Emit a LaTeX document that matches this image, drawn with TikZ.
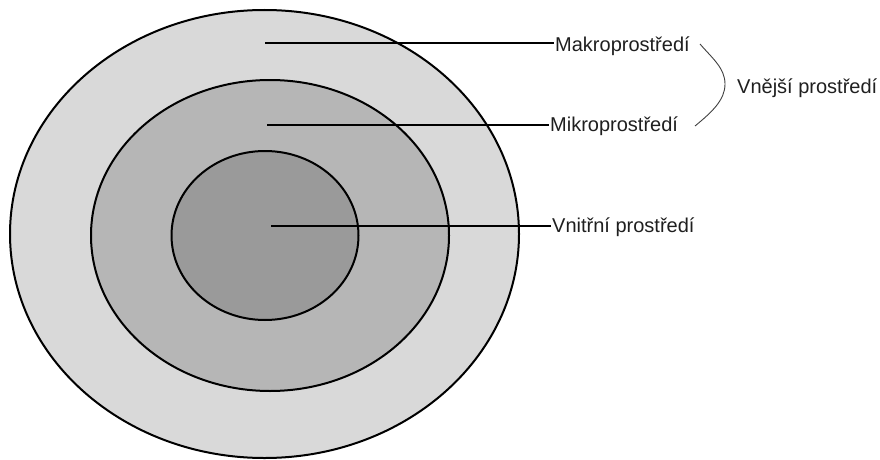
\documentclass[tikz,border=0pt]{standalone}
\usepackage{fontspec}
\setmainfont{Liberation Sans}
\usetikzlibrary{shapes.geometric}
\definecolor{ringA}{HTML}{D9D9D9}
\definecolor{ringB}{HTML}{B6B6B6}
\definecolor{ringC}{HTML}{9A9A9A}
\tikzset{
  ring/.style={ellipse, draw=black, line width=2pt, inner sep=0pt, outer sep=0pt},
  leader/.style={draw=black, line width=1.2pt},
  lbl/.style={anchor=base west, inner sep=1pt, font=\fontsize{20}{24}\selectfont, text=black!88}
}
\begin{document}
\begin{tikzpicture}[x=1pt,y=-1pt]
\useasboundingbox (0,0) rectangle (880,460);
\node[ring, fill=ringA, minimum width=509pt, minimum height=448pt] (outer) at (264.5,234) {};
\node[ring, fill=ringB, minimum width=358pt, minimum height=311pt] (middle) at (270,235.5) {};
\node[ring, fill=ringC, minimum width=187pt, minimum height=169pt] (inner) at (265,235.5) {};
\coordinate (pa) at (265,43);
\coordinate (pb) at (267,125);
\coordinate (pc) at (271,226);
\node[lbl] (makro) at (554,51.5) {Makroprostředí};
\node[lbl] (mikro) at (549,131.5) {Mikroprostředí};
\node[lbl] (vnitr) at (551,232.5) {Vnitřní prostředí};
\node[lbl] (vnejsi) at (736,93.5) {Vnější prostředí};
\draw[leader] (pa) -- (makro.west |- pa);
\draw[leader] (pb) -- (mikro.west |- pb);
\draw[leader] (pc) -- (vnitr.west |- pc);
\coordinate (bt) at (700,44);
\coordinate (bm) at (725,84);
\coordinate (bb) at (695,126);
\draw[line width=0.9pt, black!75] (bt) .. controls (712,58) and (725,68) .. (bm) .. controls (725,100) and (712,112) .. (bb);
\end{tikzpicture}
\end{document}
